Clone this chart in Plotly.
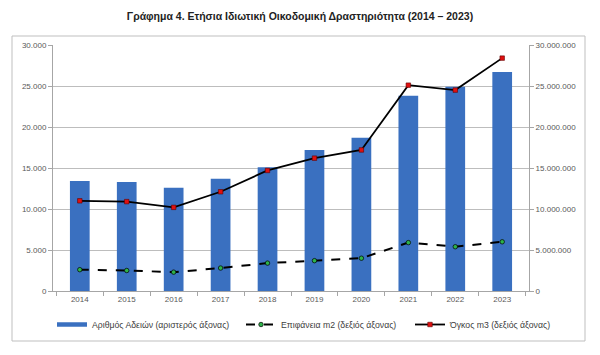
import plotly.graph_objects as go

years = ["2014", "2015", "2016", "2017", "2018", "2019", "2020", "2021", "2022", "2023"]
permits = [13400, 13300, 12600, 13700, 15100, 17200, 18700, 23800, 24900, 26700]
surface_m2 = [2600000, 2500000, 2300000, 2800000, 3400000, 3700000, 4000000, 5900000, 5400000, 6000000]
volume_m3 = [11000000, 10900000, 10200000, 12100000, 14700000, 16200000, 17200000, 25100000, 24500000, 28400000]

left_ticks = [0, 5000, 10000, 15000, 20000, 25000, 30000]
right_ticks = [0, 5000000, 10000000, 15000000, 20000000, 25000000, 30000000]

font_family = "Liberation Sans, Arial, sans-serif"
tick_font = dict(family=font_family, size=8, color="#595959")
legend_font = dict(family=font_family, size=8.7, color="#404040")
bar_color = "#3a70c0"

# page body has ~8px margin; screen px -> plot-relative paper coords
PL, PT, PW, PH = 53, 45, 476, 246
def px(xs):
    return (xs - PL) / PW
def py(ys):
    return (PT + PH - ys) / PH

fig = go.Figure()
fig.add_trace(go.Bar(
    x=years, y=permits, name="Αριθμός Αδειών (αριστερός άξονας)",
    marker=dict(color=bar_color, line=dict(width=0)),
    width=0.42, yaxis="y", showlegend=False,
))
# legend proxy for the bar series (wide thin rectangle like the original)
fig.add_trace(go.Scatter(
    x=[None], y=[None], name="Αριθμός Αδειών (αριστερός άξονας)",
    mode="lines", line=dict(color=bar_color, width=4.5), yaxis="y", legend="legend",
))
fig.add_trace(go.Scatter(
    x=years, y=surface_m2, name="Επιφάνεια m2 (δεξιός άξονας)", yaxis="y2",
    mode="lines+markers", legend="legend2",
    line=dict(color="black", width=2, dash="dash"),
    marker=dict(symbol="circle", size=4.5, color="#2db34a", line=dict(color="black", width=0.7)),
))
fig.add_trace(go.Scatter(
    x=years, y=volume_m3, name="Όγκος m3 (δεξιός άξονας)", yaxis="y2",
    mode="lines+markers", legend="legend3",
    line=dict(color="black", width=1.8),
    marker=dict(symbol="square", size=4.5, color="#e01010", line=dict(color="#600000", width=0.6)),
))

leg_common = dict(orientation="h", xanchor="left", yanchor="top", y=py(310),
                  font=legend_font, bgcolor="rgba(0,0,0,0)")

fig.update_layout(
    width=584, height=339,
    margin=dict(l=PL - 8, r=584 - (PL - 8) - PW, t=PT - 8, b=339 - (PT - 8) - PH, autoexpand=False),
    paper_bgcolor="white", plot_bgcolor="white",
    separators=",.",
    font=dict(family=font_family, size=8, color="#404040"),
    title=dict(
        text="<b>Γράφημα 4. Ετήσια Ιδιωτική Οικοδομική Δραστηριότητα (2014 – 2023)</b>",
        x=(300 - 8) / 584, xanchor="center", y=1 - (16 - 8) / 339, yanchor="middle",
        font=dict(family=font_family, size=10.5, color="#222222"),
    ),
    showlegend=True,
    legend=dict(x=px(52), **leg_common),
    legend2=dict(x=px(241), **leg_common),
    legend3=dict(x=px(410), **leg_common),
    bargap=0.58,
    xaxis=dict(
        type="category", showgrid=False, showline=True, linecolor="#a6a6a6", linewidth=1,
        ticks="outside", ticklen=4, tickcolor="#a6a6a6", tickson="boundaries",
        tickfont=tick_font, fixedrange=True,
    ),
    yaxis=dict(
        range=[0, 30000], tickvals=left_ticks, tickformat=",d",
        showgrid=True, gridcolor="#bdbdbd", gridwidth=1,
        showline=True, linecolor="#a6a6a6", linewidth=1,
        ticks="outside", ticklen=4, tickcolor="#a6a6a6",
        tickfont=tick_font, zeroline=False,
    ),
    yaxis2=dict(
        range=[0, 30000000], tickvals=right_ticks, tickformat=",d",
        overlaying="y", side="right", showgrid=False,
        showline=True, linecolor="#a6a6a6", linewidth=1,
        ticks="outside", ticklen=4, tickcolor="#a6a6a6",
        tickfont=tick_font, zeroline=False,
    ),
)

fig.add_shape(
    type="rect", xref="paper", yref="paper",
    x0=px(12), x1=px(585), y0=py(341), y1=py(36),
    line=dict(color="#bfbfbf", width=1), fillcolor="rgba(0,0,0,0)", layer="below",
)

fig.write_html("out.html")
